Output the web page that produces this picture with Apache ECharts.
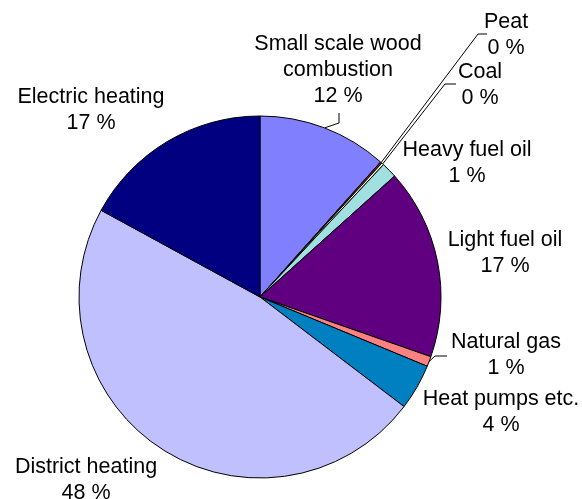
<!DOCTYPE html>
<html>
<head>
<meta charset="utf-8">
<script src="https://cdn.jsdelivr.net/npm/echarts@6/dist/echarts.min.js"></script>
<style>
  html, body { margin: 0; padding: 0; background: #fff; }
</style>
</head>
<body>
<div id="main" style="width: 582px;height:499px;"></div>
<script>
// shares of heating energy, clockwise from 12 o'clock (percent)
const categories = ['Small scale wood\ncombustion', 'Peat', 'Coal', 'Heavy fuel oil', 'Light fuel oil', 'Natural gas', 'Heat pumps etc.', 'District heating', 'Electric heating']
const values = [11.6, 0.15, 0.2, 1.4, 17.0, 0.9, 4.1, 47.6, 17.05]
const colors = ['#8080FF', '#802060', '#FFFFC0', '#A0E0E0', '#600080', '#FF8080', '#0080C0', '#C0C0FF', '#000080']

// label block centres and leader line bends (null = no leader)
const labelPos = [
  [338, 70], [506, 35], [480, 85], [467, 163], [505, 253],
  [506, 355], [501, 412], [86, 480], [91, 110]
]
const leaders = [
  [[339, 123], [339, 113]],
  [[478, 34], [487, 34]],
  [[445, 84], [456, 84]],
  null, null,
  [[435, 356], [447, 356]],
  null, null, null
]

const myChart = echarts.init(document.getElementById('main'))
const option = {
  animation: false,
  series: [
    {
      type: 'pie',
      center: [260, 297],
      radius: 181,
      startAngle: 90,
      clockwise: true,
      avoidLabelOverlap: false,
      itemStyle: {
        borderColor: '#000',
        borderWidth: 1
      },
      label: {
        show: true,
        position: 'outer',
        color: '#000',
        fontFamily: 'Liberation Sans, Arial, sans-serif',
        fontSize: 21.5,
        lineHeight: 26,
        align: 'center',
        formatter: function (params) {
          return params.name + '\n' + Math.round(params.value) + ' %'
        }
      },
      labelLine: {
        show: true,
        lineStyle: { color: '#000', width: 1 }
      },
      labelLayout: function (params) {
        const i = params.dataIndex
        const res = {
          x: labelPos[i][0],
          y: labelPos[i][1],
          align: 'center',
          verticalAlign: 'middle'
        }
        if (leaders[i] && params.labelLinePoints) {
          const start = params.labelLinePoints[0]
          res.labelLinePoints = [start, leaders[i][0], leaders[i][1]]
        }
        return res
      },
      emphasis: { disabled: true },
      data: categories.map((name, i) => ({
        name: name,
        value: values[i],
        itemStyle: { color: colors[i] },
        labelLine: { show: !!leaders[i] }
      }))
    }
  ]
}
myChart.setOption(option)
</script>
</body>
</html>
